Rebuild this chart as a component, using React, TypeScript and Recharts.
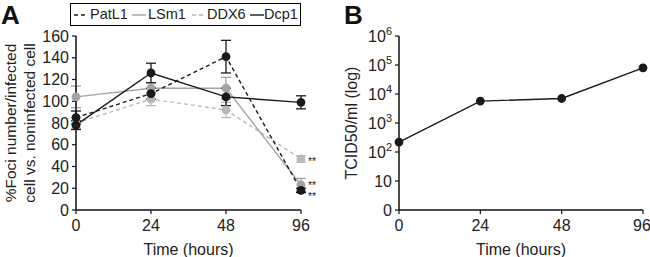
import React from 'react';
import { LineChart, Line, XAxis, YAxis, ErrorBar } from 'recharts';

const times = ['0', '24', '48', '96'];
const patL1 = [85, 107, 141, 18];
const patL1Err = [6, 5, 15, 2];
const lsm1 = [104, 112, 112, 23];
const lsm1Err = [10, 5, 10, 6];
const ddx6 = [80, 102, 92, 47];
const ddx6Err = [5, 6, 7, 3];
const dcp1 = [78, 126, 104, 99];
const dcp1Err = [4, 9, 8, 6];
const patL1Sig = ['', '', '', '**'];
const lsm1Sig = ['', '', '', '**'];
const ddx6Sig = ['', '', '', '**'];
const yTicksA = [0, 20, 40, 60, 80, 100, 120, 140, 160];

const tcid50 = [220, 5700, 7000, 80000];
const yTicksB = [0, 1, 2, 3, 4, 5, 6];
const yTickLabelsB = [
  { base: '0', exp: '' },
  { base: '10', exp: '' },
  { base: '10', exp: '2' },
  { base: '10', exp: '3' },
  { base: '10', exp: '4' },
  { base: '10', exp: '5' },
  { base: '10', exp: '6' },
];

const dataA = times.map((t, i) => ({
  t,
  patL1: patL1[i], patL1Err: patL1Err[i], patL1Sig: patL1Sig[i],
  lsm1: lsm1[i], lsm1Err: lsm1Err[i], lsm1Sig: lsm1Sig[i],
  ddx6: ddx6[i], ddx6Err: ddx6Err[i], ddx6Sig: ddx6Sig[i],
  dcp1: dcp1[i], dcp1Err: dcp1Err[i],
}));

const dataB = times.map((t, i) => ({ t, logv: Math.log10(tcid50[i]) }));

const FONT = '"Liberation Sans", Arial, sans-serif';
const BLACK = '#1a1a1a';
const GRAY = '#a4a4a4';
const LGRAY = '#b8b8b8';

const sigLabel = (key: string, dy: number) => (props: any) => {
  const { x, y, index } = props;
  const v = (dataA[index] as any)[key];
  if (!v) return null;
  return (
    <text key={key + index} x={x + 7} y={y + dy} fontSize={10.5} fontFamily={FONT} fill="#222">
      {v}
    </text>
  );
};

const legendItems = [
  { name: 'PatL1', color: BLACK, dash: '4 3', sx: 3, tx: 19 },
  { name: 'LSm1', color: GRAY, dash: '', sx: 61, tx: 77 },
  { name: 'DDX6', color: LGRAY, dash: '4 3', sx: 121, tx: 136 },
  { name: 'Dcp1', color: BLACK, dash: '', sx: 179, tx: 193 },
];

const LegendBox = () => (
  <div
    style={{
      position: 'absolute',
      left: 70,
      top: 3,
      width: 231,
      height: 23,
      border: '1px solid #000',
      boxSizing: 'border-box',
      fontFamily: FONT,
      fontSize: 14.5,
      color: '#222',
      background: '#fff',
    }}
  >
    {legendItems.map((it) => (
      <React.Fragment key={it.name}>
        <svg width={14} height={10} style={{ position: 'absolute', left: it.sx, top: 6 }}>
          <line x1={0} y1={5} x2={14} y2={5} stroke={it.color} strokeWidth={1.4} strokeDasharray={it.dash || undefined} />
        </svg>
        <span style={{ position: 'absolute', left: it.tx, top: 2, lineHeight: '17px' }}>{it.name}</span>
      </React.Fragment>
    ))}
  </div>
);

const TickB = (props: any) => {
  const { x, y, payload } = props;
  const lab = yTickLabelsB[payload.index] || yTickLabelsB[payload.value];
  return (
    <text x={x} y={y + 6} textAnchor="end" fontSize={16} fontFamily={FONT} fill="#222">
      <tspan>{lab.base}</tspan>
      {lab.exp ? <tspan fontSize={11} dy={-7}>{lab.exp}</tspan> : null}
    </text>
  );
};

export default function App() {
  return (
    <div style={{ position: 'absolute', left: 0, top: 0, width: 650, height: 257, background: '#fff', fontFamily: FONT }}>
      <div style={{ position: 'absolute', left: 0, top: 0 }}>
        <LineChart width={330} height={257} data={dataA} margin={{ top: 36, right: 29, left: 0, bottom: 0 }}>
          <text x={1} y={24} fontSize={26} fontWeight="bold" fontFamily={FONT} fill="#111">A</text>
          <XAxis
            dataKey="t"
            height={47}
            tickSize={4}
            tickMargin={6}
            axisLine={{ stroke: '#111', strokeWidth: 1.5 }}
            tickLine={{ stroke: '#111', strokeWidth: 1.2 }}
            tick={{ fontSize: 16, fill: '#222', fontFamily: FONT }}
            label={{ value: 'Time (hours)', position: 'insideBottom', offset: 2, fontSize: 16, fill: '#222', fontFamily: FONT }}
          />
          <YAxis
            width={76}
            domain={[0, 160]}
            ticks={yTicksA}
            interval={0}
            tickSize={4}
            tickMargin={3}
            axisLine={{ stroke: '#111', strokeWidth: 1.5 }}
            tickLine={{ stroke: '#111', strokeWidth: 1.2 }}
            tick={{ fontSize: 16, fill: '#222', fontFamily: FONT }}
            label={() => (
              <g key="ylabA" fontFamily={FONT} fontSize={15.5} fill="#222">
                <text x={16} y={123} textAnchor="middle" transform="rotate(-90 16 123)">%Foci number/infected</text>
                <text x={35} y={123} textAnchor="middle" transform="rotate(-90 35 123)">cell vs. noninfected cell</text>
              </g>
            )}
          />
          <Line
            dataKey="ddx6"
            name="DDX6"
            stroke={LGRAY}
            strokeWidth={1.4}
            strokeDasharray="4 3"
            dot={{ r: 3.7, fill: LGRAY, stroke: LGRAY, strokeDasharray: '' }}
            isAnimationActive={false}
            label={sigLabel('ddx6Sig', 6)}
          >
            <ErrorBar dataKey="ddx6Err" width={5} stroke={LGRAY} strokeWidth={1.3} />
          </Line>
          <Line
            dataKey="lsm1"
            name="LSm1"
            stroke={GRAY}
            strokeWidth={1.4}
            dot={{ r: 3.7, fill: GRAY, stroke: GRAY }}
            isAnimationActive={false}
            label={sigLabel('lsm1Sig', 4)}
          >
            <ErrorBar dataKey="lsm1Err" width={5} stroke={GRAY} strokeWidth={1.3} />
          </Line>
          <Line
            dataKey="dcp1"
            name="Dcp1"
            stroke={BLACK}
            strokeWidth={1.4}
            dot={{ r: 3.7, fill: BLACK, stroke: BLACK }}
            isAnimationActive={false}
          >
            <ErrorBar dataKey="dcp1Err" width={5} stroke={BLACK} strokeWidth={1.3} />
          </Line>
          <Line
            dataKey="patL1"
            name="PatL1"
            stroke={BLACK}
            strokeWidth={1.4}
            strokeDasharray="4 3"
            dot={{ r: 3.7, fill: BLACK, stroke: BLACK, strokeDasharray: '' }}
            isAnimationActive={false}
            label={sigLabel('patL1Sig', 10)}
          >
            <ErrorBar dataKey="patL1Err" width={5} stroke={BLACK} strokeWidth={1.3} />
          </Line>
        </LineChart>
        <LegendBox />
      </div>
      <div style={{ position: 'absolute', left: 330, top: 0 }}>
        <LineChart width={320} height={257} data={dataB} margin={{ top: 36, right: 7, left: 0, bottom: 0 }}>
          <text x={14} y={24} fontSize={26} fontWeight="bold" fontFamily={FONT} fill="#111">B</text>
          <XAxis
            dataKey="t"
            height={47}
            tickSize={4}
            tickMargin={6}
            axisLine={{ stroke: '#111', strokeWidth: 1.5 }}
            tickLine={{ stroke: '#111', strokeWidth: 1.2 }}
            tick={{ fontSize: 16, fill: '#222', fontFamily: FONT }}
            label={{ value: 'Time (hours)', position: 'insideBottom', offset: 2, fontSize: 16, fill: '#222', fontFamily: FONT }}
          />
          <YAxis
            width={69}
            type="number"
            domain={[0, 6]}
            ticks={yTicksB}
            interval={0}
            tickSize={4}
            tickMargin={3}
            axisLine={{ stroke: '#111', strokeWidth: 1.5 }}
            tickLine={{ stroke: '#111', strokeWidth: 1.2 }}
            tick={<TickB />}
            label={() => (
              <text key="ylabB" x={27} y={123} textAnchor="middle" transform="rotate(-90 27 123)" fontFamily={FONT} fontSize={16} fill="#222">
                TCID50/ml (log)
              </text>
            )}
          />
          <Line
            dataKey="logv"
            stroke={BLACK}
            strokeWidth={1.4}
            dot={{ r: 3.7, fill: BLACK, stroke: BLACK }}
            isAnimationActive={false}
          />
        </LineChart>
      </div>
    </div>
  );
}
